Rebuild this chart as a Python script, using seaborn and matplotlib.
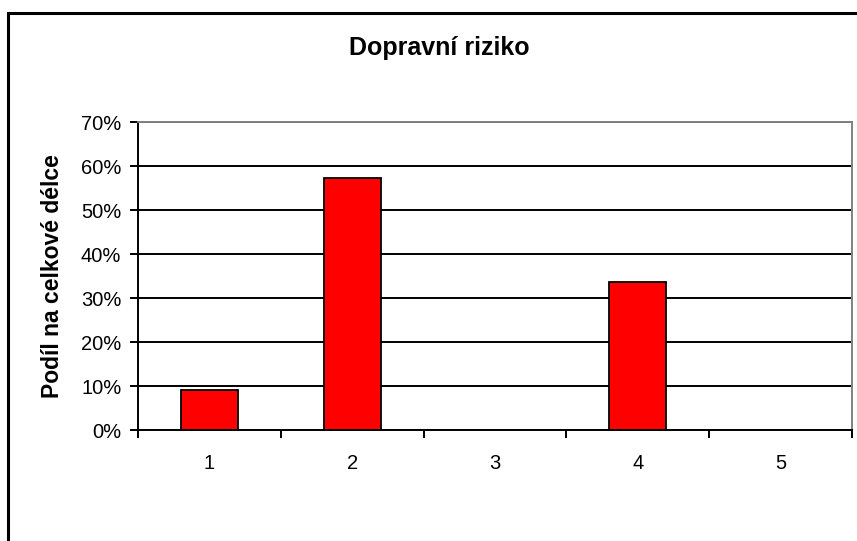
import numpy as np
import pandas as pd
import matplotlib
matplotlib.use('Agg')
import matplotlib.pyplot as plt
import seaborn as sns
from matplotlib.patches import Rectangle
from matplotlib.ticker import PercentFormatter, FixedLocator


categories = ['1', '2', '3', '4', '5']
shares = [0.091, 0.573, 0.0, 0.336, 0.0]
y_ticks = [0, 0.1, 0.2, 0.3, 0.4, 0.5, 0.6, 0.7]

TITLE = 'Dopravní riziko'
Y_LABEL = 'Podíl na celkové délce'


def main():
    sns.set_style('white')
    plt.rcParams['font.family'] = ['Liberation Sans', 'DejaVu Sans']
    plt.rcParams['text.color'] = 'black'
    plt.rcParams['axes.labelcolor'] = 'black'
    plt.rcParams['xtick.color'] = 'black'
    plt.rcParams['ytick.color'] = 'black'

    df = pd.DataFrame({'cat': categories, 'share': shares})

    fig = plt.figure(figsize=(8.57, 5.41), dpi=100)
    ax = fig.add_axes([138 / 857, 1 - 430 / 541, (852 - 138) / 857, (430 - 122) / 541])

    # outer chart border (Excel style)
    fig.patches.append(Rectangle((8 / 857, -0.1), 1.2, 1 - 13 / 541 + 0.1,
                                 transform=fig.transFigure, fill=False,
                                 edgecolor='black', linewidth=2.2))

    ax.set_axisbelow(True)
    ax.yaxis.grid(True, color='black', linewidth=1.4)
    sns.barplot(data=df, x='cat', y='share', color='#ff0000', width=0.4,
                edgecolor='black', linewidth=1.3, saturation=1, ax=ax)

    ax.set_xlim(-0.5, 4.5)
    ax.set_ylim(0, 0.7)
    ax.set_yticks(y_ticks)
    ax.yaxis.set_major_formatter(PercentFormatter(1.0, decimals=0))

    ax.xaxis.set_minor_locator(FixedLocator(np.arange(-0.5, 5, 1.0)))
    ax.tick_params(axis='x', which='major', length=0, pad=17, labelsize=14.5)
    ax.tick_params(axis='x', which='minor', length=6, width=1.4, color='black',
                   direction='out', bottom=True)
    ax.tick_params(axis='y', which='major', length=6, width=1.4, color='black',
                   direction='out', left=True, pad=6, labelsize=14.5)

    for side in ['left', 'bottom']:
        ax.spines[side].set_color('black')
        ax.spines[side].set_linewidth(1.4)
    for side in ['top', 'right']:
        ax.spines[side].set_visible(True)
        ax.spines[side].set_color('#808080')
        ax.spines[side].set_linewidth(1.4)

    ax.set_xlabel('')
    ax.set_ylabel(Y_LABEL, fontsize=16.5, fontweight='bold', labelpad=12)
    fig.text(439 / 857, 1 - 48 / 541, TITLE, ha='center', va='center',
             fontsize=18, fontweight='bold')

    fig.savefig('out.png', dpi=100, facecolor='white')


if __name__ == '__main__':
    main()
